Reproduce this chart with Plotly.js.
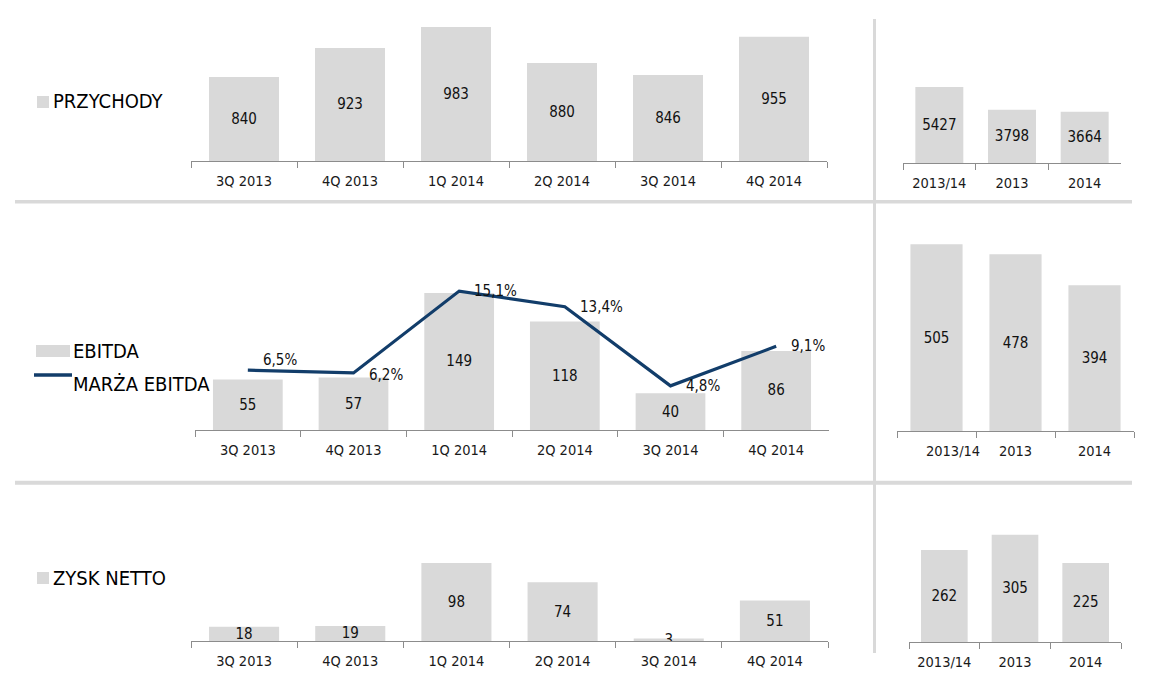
<!DOCTYPE html>
<html>
<head>
<meta charset="utf-8">
<script src="https://cdn.plot.ly/plotly-3.0.1.min.js"></script>
<style>
  html, body { margin: 0; padding: 0; background: #fff; }
  #chart { width: 1160px; height: 691px; }
</style>
</head>
<body>
<div id="chart"></div>
<script>
// kategorie
const quarters = ['3Q 2013', '4Q 2013', '1Q 2014', '2Q 2014', '3Q 2014', '4Q 2014'];
const years = ['2013/14', '2013', '2014'];

// przychody
const revenueQ = [840, 923, 983, 880, 846, 955];
const revenueY = [5427, 3798, 3664];

// EBITDA + marza (%)
const ebitdaQ = [55, 57, 149, 118, 40, 86];
const ebitdaY = [505, 478, 394];
const marginQ = [6.5, 6.2, 15.1, 13.4, 4.8, 9.1];

// zysk netto
const netQ = [18, 19, 98, 74, 3, 51];
const netY = [262, 305, 225];

const W = 1160, H = 691;
const GREY = '#d9d9d9';
const AXIS = '#8c8c8c';
const NAVY = '#123d6a';
const FONT = 'DejaVu Sans Condensed, DejaVu Sans, sans-serif';
const REVENUE_MIN = 600; // os przychodow nie startuje od zera

const px = x => x / W;
const py = y => 1 - y / H;

function barTrace(x, y, xa, ya, base) {
  const b = base || 0;
  return {
    type: 'bar',
    x: x,
    y: y.map(v => v - b),
    base: b,
    xaxis: xa,
    yaxis: ya,
    text: y.map(String),
    textposition: 'inside',
    insidetextanchor: 'middle',
    textangle: 0,
    constraintext: 'none',
    insidetextfont: { family: FONT, size: 15, color: '#111' },
    marker: { color: GREY, line: { width: 0 } },
    hoverinfo: 'x+text'
  };
}

function xAxis(left, right, n, anchor, ticktext) {
  const ax = {
    domain: [px(left), px(right)],
    anchor: anchor,
    type: 'category',
    range: [-0.5, n - 0.5],
    showline: true, linecolor: AXIS, linewidth: 1,
    ticks: 'outside', ticklen: 6, tickcolor: AXIS, tickwidth: 1,
    tickson: 'boundaries',
    tickangle: 0,
    ticklabelstandoff: 7,
    showgrid: false, zeroline: false, fixedrange: true,
    tickfont: { family: FONT, size: 14.5, color: '#1a1a1a' }
  };
  if (ticktext) {
    ax.tickmode = 'array';
    ax.tickvals = years;
    ax.ticktext = ticktext;
  }
  return ax;
}

function yAxis(top, bottom, range, anchor) {
  return {
    domain: [py(bottom), py(top)],
    range: range,
    anchor: anchor,
    visible: false,
    fixedrange: true
  };
}

const traces = [
  barTrace(quarters, revenueQ, 'x', 'y', REVENUE_MIN),
  barTrace(years, revenueY, 'x2', 'y2'),
  barTrace(quarters, ebitdaQ, 'x3', 'y3'),
  barTrace(years, ebitdaY, 'x4', 'y4'),
  barTrace(quarters, netQ, 'x5', 'y5'),
  barTrace(years, netY, 'x6', 'y6'),
  {
    type: 'scatter',
    mode: 'lines',
    x: quarters,
    y: marginQ,
    xaxis: 'x3',
    yaxis: 'y7',
    line: { color: NAVY, width: 3.2 },
    hoverinfo: 'x+y'
  }
];

// etykiety marzy
const labelShift = [10, -2, 0, 0, 0, 0];
const marginLabels = marginQ.map((v, i) => ({
  xref: 'x3', yref: 'y7',
  x: quarters[i], y: v,
  text: v.toFixed(1).replace('.', ',') + '%',
  showarrow: false,
  xanchor: 'left', yanchor: 'middle',
  xshift: 13, yshift: labelShift[i],
  font: { family: FONT, size: 15, color: '#111' }
}));

function legendText(text, x, y) {
  return {
    xref: 'paper', yref: 'paper',
    x: px(x), y: py(y),
    text: text, showarrow: false,
    xanchor: 'left', yanchor: 'middle',
    font: { family: FONT, size: 20, color: '#000' }
  };
}

function rect(x0, y0, x1, y1) {
  return {
    type: 'rect', xref: 'paper', yref: 'paper',
    x0: px(x0), x1: px(x1), y0: py(y0), y1: py(y1),
    fillcolor: GREY, line: { width: 0 }
  };
}

function sepLine(x0, y0, x1, y1, w) {
  return {
    type: 'line', xref: 'paper', yref: 'paper',
    x0: px(x0), x1: px(x1), y0: py(y0), y1: py(y1),
    line: { color: GREY, width: w }
  };
}

const layout = {
  width: W,
  height: H,
  margin: { l: 0, r: 0, t: 0, b: 0 },
  paper_bgcolor: '#fff',
  plot_bgcolor: 'rgba(0,0,0,0)',
  showlegend: false,
  bargap: 0.34,
  font: { family: FONT, color: '#111' },

  xaxis: xAxis(191, 827, 6, 'y'),
  yaxis: yAxis(21, 161, [REVENUE_MIN, 1000], 'x'),
  xaxis2: xAxis(903, 1121, 3, 'y2'),
  yaxis2: yAxis(79, 163, [0, 6000], 'x2'),

  xaxis3: xAxis(195, 829, 6, 'y3'),
  yaxis3: yAxis(246, 430, [0, 200], 'x3'),
  xaxis4: xAxis(897, 1134, 3, 'y4',
    ['\u00a0\u00a0\u00a0\u00a0\u00a0\u00a0\u00a0\u00a0' + years[0], years[1], years[2]]),
  yaxis4: yAxis(209, 431, [0, 600], 'x4'),
  yaxis7: { overlaying: 'y3', anchor: 'x3', range: [0, 20], visible: false, fixedrange: true },

  xaxis5: xAxis(191, 828, 6, 'y5'),
  yaxis5: yAxis(545.6, 641, [0, 120], 'x5'),
  xaxis6: xAxis(909, 1121, 3, 'y6'),
  yaxis6: yAxis(519, 642, [0, 350], 'x6'),

  shapes: [
    sepLine(15, 201.7, 1132, 201.7, 3.5),
    sepLine(15, 482.7, 1132, 482.7, 4),
    sepLine(874.5, 19, 874.5, 653, 3),
    rect(37, 96, 49, 108),
    rect(36, 345, 70, 357),
    {
      type: 'line', xref: 'paper', yref: 'paper',
      x0: px(34), x1: px(72), y0: py(375), y1: py(375),
      line: { color: NAVY, width: 3.5 }
    },
    rect(37, 572, 49, 584)
  ],

  annotations: [
    legendText('PRZYCHODY', 51, 101),
    legendText('EBITDA', 71, 351),
    legendText('MARŻA EBITDA', 71, 384),
    legendText('ZYSK NETTO', 51, 578)
  ].concat(marginLabels)
};

Plotly.newPlot('chart', traces, layout, { displayModeBar: false, staticPlot: true });
</script>
</body>
</html>
